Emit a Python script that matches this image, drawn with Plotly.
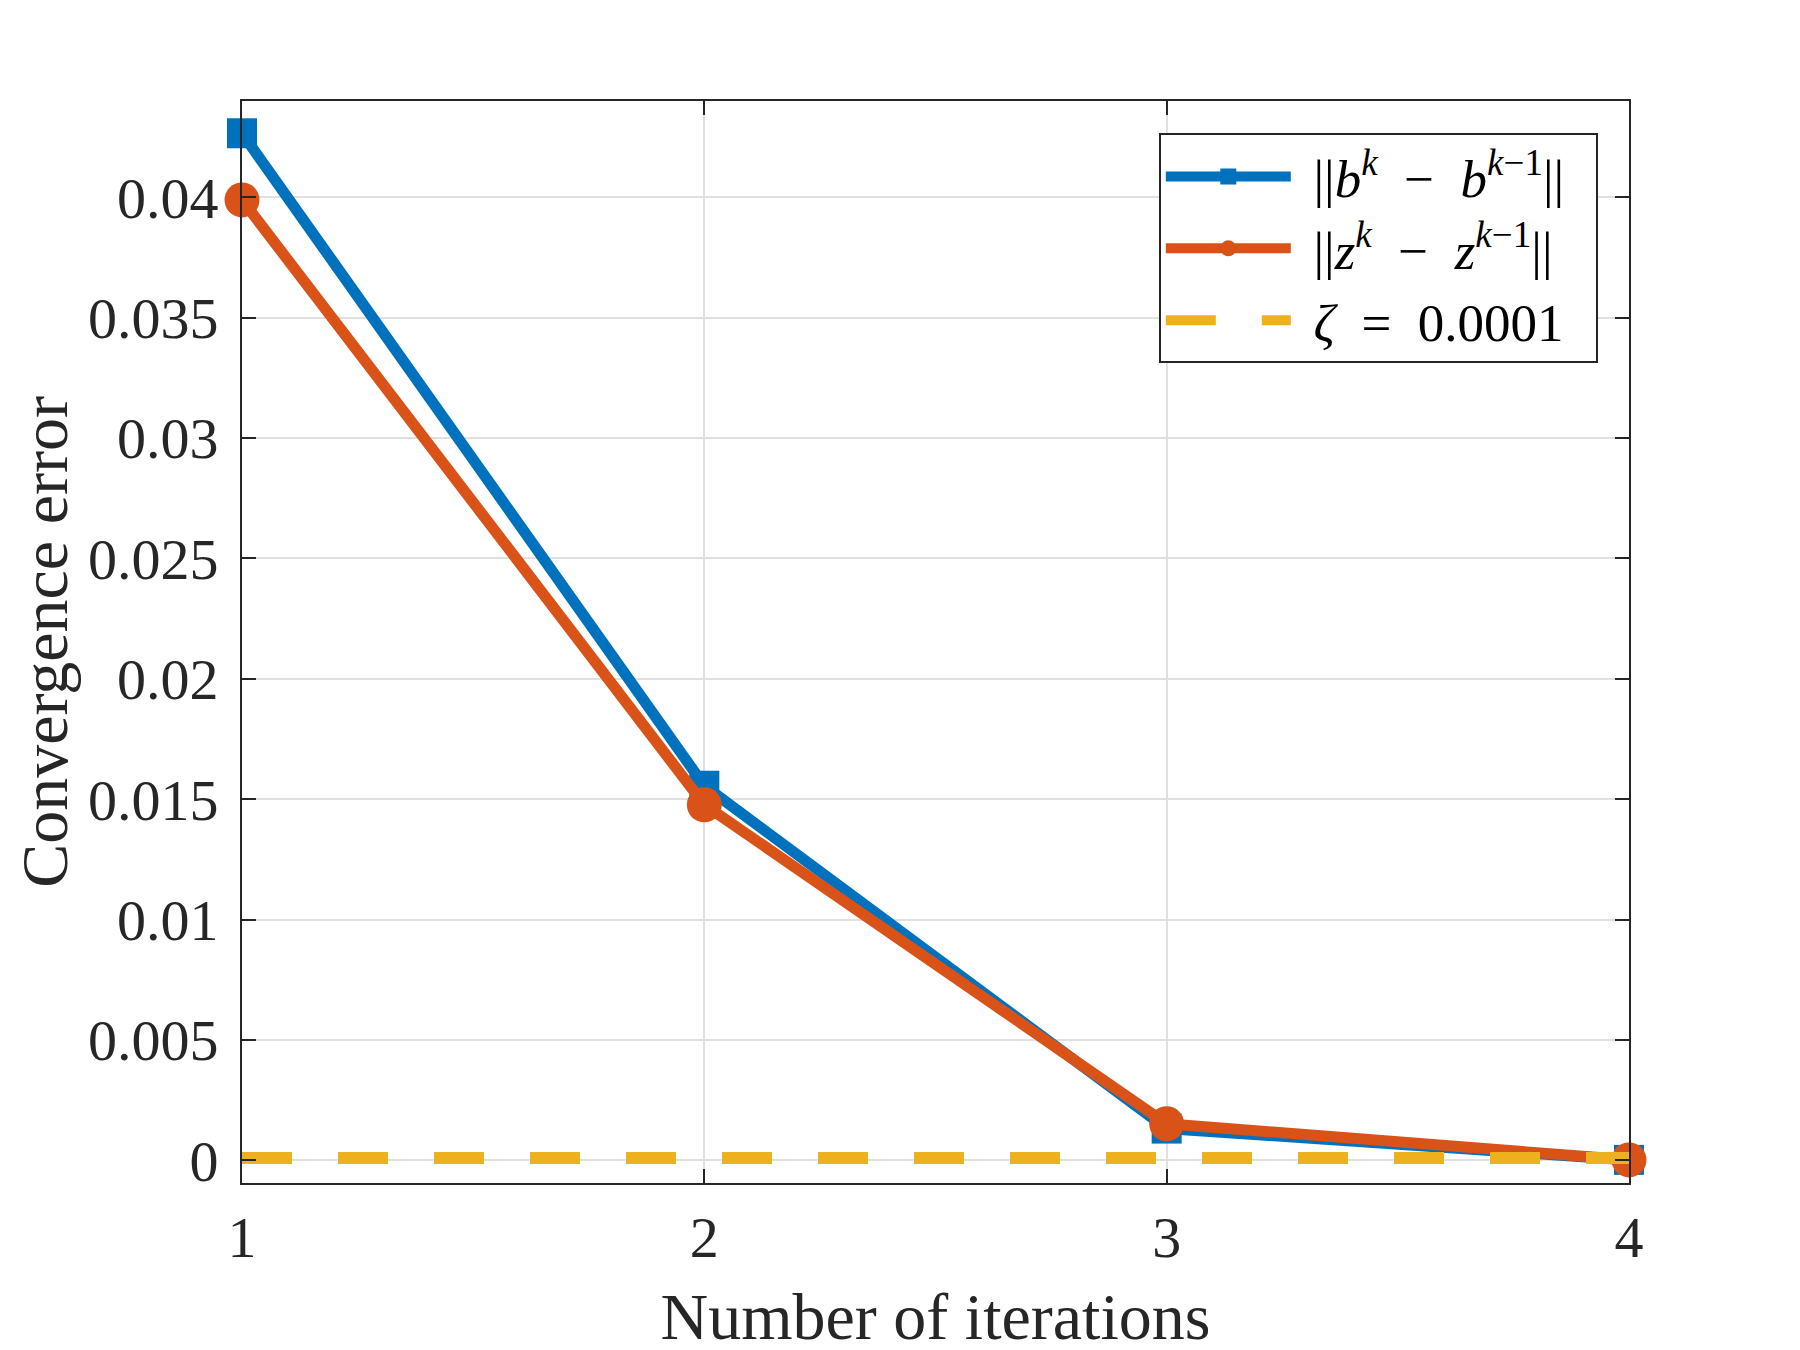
"""
Convergence error of the b and z iterates against the stopping threshold.
"""
import plotly.graph_objects as go

# Colors (MATLAB default order)
blue = '#0072BD'
orange = '#D95319'
yellow = '#EDB120'
ink = '#262626'

# Data
iterations = [1, 2, 3, 4]
b_err = [0.04266, 0.01556, 0.00132, 0.00002]
z_err = [0.03989, 0.01477, 0.00152, 0.00002]
zeta_x = [1, 4]
zeta_y = [0.0001, 0.0001]

y_ticks = [0, 0.005, 0.01, 0.015, 0.02, 0.025, 0.03, 0.035, 0.04]
y_labels = ['0', '0.005', '0.01', '0.015', '0.02', '0.025', '0.03', '0.035', '0.04']
x_ticks = [1, 2, 3, 4]
x_labels = ['1', '2', '3', '4']

font = 'Liberation Serif, Times New Roman, serif'
sp = '\u2002'   # wider gap around operators, like the LaTeX spacing
lead = '\u2004'  # small gap between legend symbol and text
tail = '\u2002'  # room on the right of the legend box

fig = go.Figure()
fig.add_trace(go.Scatter(
    x=iterations, y=b_err, mode='lines+markers',
    name=lead + '||<i>b</i><sup><i>k</i></sup>' + sp + '\u2212' + sp
         + '<i>b</i><sup><i>k</i>\u22121</sup>||' + tail,
    line=dict(color=blue, width=11),
    marker=dict(symbol='square', size=30, color=blue),
    cliponaxis=False))
fig.add_trace(go.Scatter(
    x=iterations, y=z_err, mode='lines+markers',
    name=lead + '||<i>z</i><sup><i>k</i></sup>' + sp + '\u2212' + sp
         + '<i>z</i><sup><i>k</i>\u22121</sup>||' + tail,
    line=dict(color=orange, width=11),
    marker=dict(symbol='circle', size=35, color=orange),
    cliponaxis=False))
fig.add_trace(go.Scatter(
    x=zeta_x, y=zeta_y, mode='lines',
    name=lead + '<i>\u03b6</i>' + sp + '=' + sp + '0.0001',
    line=dict(color=yellow, width=12, dash='50px,46px'),
    cliponaxis=False))

axis_style = dict(
    showline=True, linecolor=ink, linewidth=2, mirror='ticks',
    ticks='inside', ticklen=14, tickwidth=2, tickcolor=ink,
    showgrid=True, gridcolor='#e0e0e0', gridwidth=2,
    zeroline=False,
    tickfont=dict(family=font, size=58, color=ink),
)

fig.update_xaxes(
    range=[1, 4], tickvals=x_ticks, ticktext=x_labels,
    ticklabelstandoff=2,
    title=dict(text='Number of iterations', font=dict(family=font, size=66, color=ink),
               standoff=24),
    **axis_style)
fig.update_yaxes(
    range=[-0.00094, 0.0440], tickvals=y_ticks, ticktext=y_labels,
    ticklabelstandoff=10,
    title=dict(text='Convergence error', font=dict(family=font, size=66, color=ink),
               standoff=12),
    **axis_style)

fig.update_layout(
    width=1800, height=1350,
    margin=dict(l=234, r=179, t=93, b=175),
    plot_bgcolor='white', paper_bgcolor='white',
    showlegend=True,
    legend=dict(
        x=0.661, y=0.970, xanchor='left', yanchor='top',
        bgcolor='white', bordercolor=ink, borderwidth=2,
        font=dict(family=font, size=53, color='black'),
        itemwidth=125, tracegroupgap=0,
    ),
)

fig.write_html("out.html")
